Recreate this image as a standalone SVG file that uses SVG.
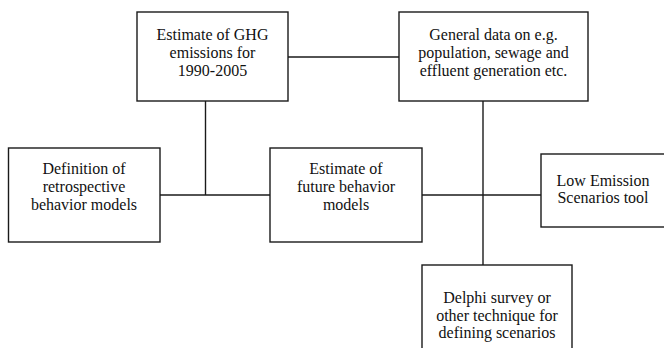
<svg xmlns="http://www.w3.org/2000/svg" width="664" height="348" viewBox="0 0 664 348">
<style>
.box{fill:#fff;stroke:#1a1a1a;stroke-width:1.4}
.ln{stroke:#1a1a1a;stroke-width:1.4;fill:none}
text{font-size:16px;fill:#111;text-anchor:middle}
</style>
<rect width="664" height="348" fill="#fff"/>
<g id="connectors">
<line class="ln" x1="288" y1="57" x2="399" y2="57"/>
<line class="ln" x1="205.5" y1="101" x2="205.5" y2="195"/>
<line class="ln" x1="160" y1="195" x2="270" y2="195"/>
<line class="ln" x1="483" y1="101" x2="483" y2="265"/>
<line class="ln" x1="422" y1="195" x2="541" y2="195"/>
</g>
<g font-family="'Liberation Serif', 'Times New Roman', 'DejaVu Serif', serif">
<g id="ghg">
<rect class="box" x="137" y="12" width="151" height="89"/>
<text x="212.5" y="39.5">Estimate of GHG</text>
<text x="212.5" y="57.5">emissions for</text>
<text x="212.5" y="75.5">1990-2005</text>
</g>
<g id="general">
<rect class="box" x="399" y="12" width="189" height="89"/>
<text x="493.5" y="39.5">General data on e.g.</text>
<text x="493.5" y="57.5">population, sewage and</text>
<text x="493.5" y="75.5">effluent generation etc.</text>
</g>
<g id="definition">
<rect class="box" x="8.5" y="148" width="151.5" height="94"/>
<text x="84" y="174">Definition of</text>
<text x="84" y="192">retrospective</text>
<text x="84" y="210">behavior models</text>
</g>
<g id="future">
<rect class="box" x="270" y="148" width="152" height="94"/>
<text x="346" y="174">Estimate of</text>
<text x="346" y="192">future behavior</text>
<text x="346" y="210">models</text>
</g>
<g id="les">
<rect class="box" x="541" y="154" width="140" height="73"/>
<text x="603" y="186">Low Emission</text>
<text x="603" y="203">Scenarios tool</text>
</g>
<g id="delphi">
<rect class="box" x="422" y="265" width="150" height="100"/>
<text x="497" y="303">Delphi survey or</text>
<text x="497" y="320.5">other technique for</text>
<text x="497" y="338">defining scenarios</text>
</g>
</g>
</svg>
